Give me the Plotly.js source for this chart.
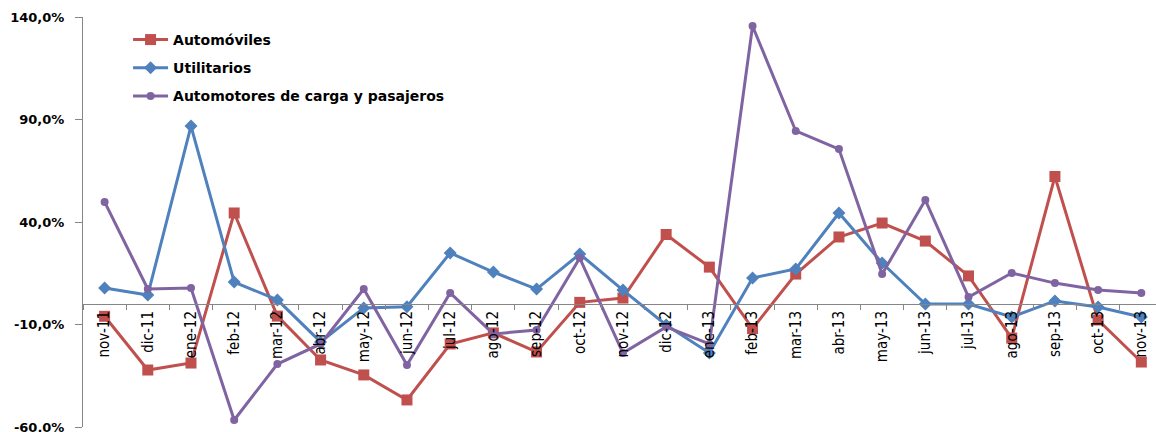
<!DOCTYPE html>
<html>
<head>
<meta charset="utf-8">
<script src="https://cdn.plot.ly/plotly-3.0.1.min.js"></script>
<style>
  html, body { margin: 0; padding: 0; background: #ffffff; }
  #chart { width: 1156px; height: 432px; }
</style>
</head>
<body>
<div id="chart"></div>
<script>
// Variación interanual (%) por tipo de vehículo, nov-11 a nov-13
const meses = ["nov-11","dic-11","ene-12","feb-12","mar-12","abr-12","may-12","jun-12","jul-12",
  "ago-12","sep-12","oct-12","nov-12","dic-12","ene-13","feb-13","mar-13","abr-13","may-13",
  "jun-13","jul-13","ago-13","sep-13","oct-13","nov-13"];

const automoviles = [-6.0, -32.2, -28.8, 44.4, -5.9, -27.3, -34.6, -46.8, -19.5,
  -14.1, -23.4, 0.8, 2.9, 33.9, 18.0, -12.0, 14.6, 32.7, 39.5,
  30.7, 13.7, -16.6, 62.2, -7.8, -28.3];

const utilitarios = [7.8, 4.4, 86.8, 10.7, 2.0, -18.5, -1.9, -1.3, 24.9,
  15.6, 7.3, 24.4, 6.8, -10.2, -23.9, 12.7, 17.1, 44.4, 20.0,
  0.0, 0.0, -6.3, 1.5, -1.5, -6.3];

const cargaPasajeros = [49.8, 7.3, 7.8, -56.6, -29.3, -19.5, 7.3, -29.8, 5.4,
  -14.6, -12.7, 22.4, -23.9, -11.2, -19.5, 135.6, 84.4, 75.6, 14.6,
  50.7, 3.4, 15.1, 10.2, 6.8, 5.4];

const yTicks = [-60, -10, 40, 90, 140];
const yTickText = ["-60,0%", "-10,0%", "40,0%", "90,0%", "140,0%"];

const serie = (name, y, color, symbol, size, grp) => ({
  type: "scatter",
  mode: "lines+markers",
  name: name,
  x: meses,
  y: y,
  legendgroup: grp,
  line: { color: color, width: 3 },
  marker: { color: color, symbol: symbol, size: size, line: { width: 0 } },
  hoverinfo: "skip"
});

const data = [
  serie("Automóviles", automoviles, "#C0504D", "square", 11, "a"),
  serie("Utilitarios", utilitarios, "#4F81BD", "diamond", 10, "b"),
  serie("Automotores de carga y pasajeros", cargaPasajeros, "#8064A2", "circle", 8, "c")
];

const layout = {
  width: 1156,
  height: 432,
  margin: { l: 83, r: 0, t: 17, b: 5 },
  paper_bgcolor: "#ffffff",
  plot_bgcolor: "#ffffff",
  showlegend: true,
  legend: {
    x: 0.042, y: 0.983, xanchor: "left", yanchor: "top",
    bgcolor: "rgba(0,0,0,0)",
    traceorder: "grouped",
    tracegroupgap: 7,
    itemwidth: 35,
    font: { family: "DejaVu Sans", size: 14, color: "#000000", weight: "bold" }
  },
  xaxis: {
    type: "category",
    categoryorder: "array",
    categoryarray: meses,
    range: [-0.5, 24.34],
    anchor: "free",
    position: 0.3,
    showline: true,
    linecolor: "#868686",
    linewidth: 1,
    ticks: "outside",
    tickson: "boundaries",
    ticklen: 5,
    tickcolor: "#868686",
    tickangle: -90,
    showgrid: false,
    zeroline: false,
    tickfont: { family: "Liberation Sans Narrow, DejaVu Sans Condensed, sans-serif", size: 15, color: "#000000" }
  },
  yaxis: {
    range: [-60, 140],
    tickvals: yTicks,
    ticktext: yTickText,
    showline: true,
    linecolor: "#868686",
    linewidth: 1,
    ticks: "outside",
    ticklen: 7,
    tickcolor: "#868686",
    showgrid: false,
    zeroline: false,
    ticklabelstandoff: 8,
    ticklabeloverflow: "allow",
    tickfont: { family: "DejaVu Sans", size: 13, color: "#000000", weight: "bold" }
  }
};

Plotly.newPlot("chart", data, layout, { staticPlot: true, displayModeBar: false });
</script>
</body>
</html>
